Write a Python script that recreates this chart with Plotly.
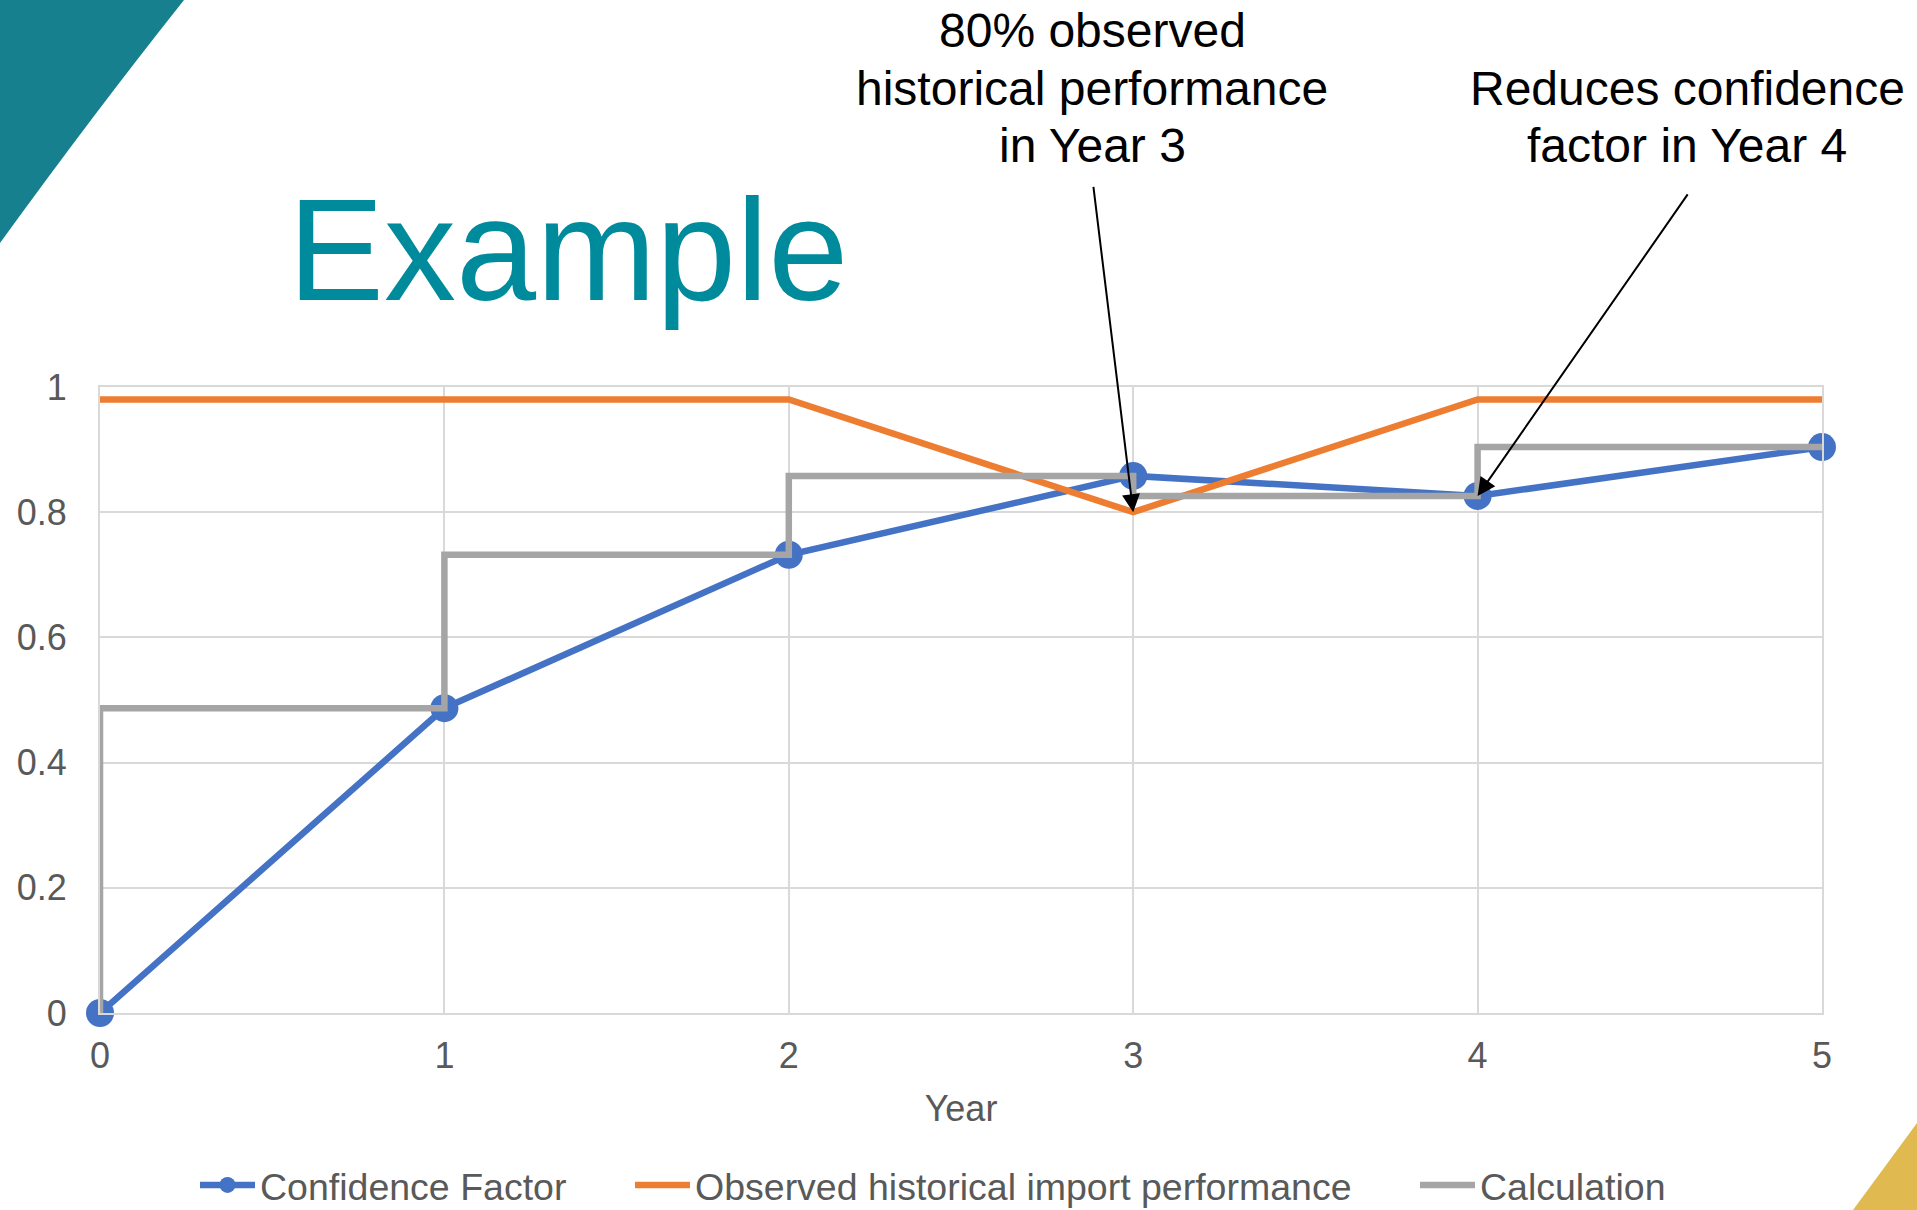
import plotly.graph_objects as go

years = [0, 1, 2, 3, 4, 5]
confidence_factor = [0, 0.487, 0.732, 0.858, 0.826, 0.904]
observed_performance = [0.98, 0.98, 0.98, 0.80, 0.98, 0.98]
calculation = [0, 0.487, 0.732, 0.858, 0.826, 0.904]
y_ticks = [0, 0.2, 0.4, 0.6, 0.8, 1]

W, H = 1917, 1210
L, R, T, B = 100, 95, 387, 197
PW, PH = W - L - R, H - T - B


def px(x):
    return (x - L) / PW


def py(y):
    return (H - B - y) / PH


FONT = "Liberation Sans, Arial, sans-serif"
TICK_COLOR = "#595959"
LEG_FONT = dict(family=FONT, size=37.5, color=TICK_COLOR)

fig = go.Figure()
fig.add_trace(go.Scatter(
    x=years, y=confidence_factor, name="Confidence Factor", mode="lines+markers",
    line=dict(color="#4472C4", width=6.5), marker=dict(size=28, color="#4472C4"),
    cliponaxis=False, legend="legend"))
fig.add_trace(go.Scatter(
    x=years, y=observed_performance, name="Observed historical import performance",
    mode="lines", line=dict(color="#ED7D31", width=6.5), cliponaxis=False, legend="legend2"))
fig.add_trace(go.Scatter(
    x=years, y=calculation, name="Calculation", mode="lines",
    line=dict(color="#A5A5A5", width=6.5, shape="vh"), cliponaxis=False, legend="legend3"))

annotations = []
annotations.append(dict(text="Example", xref="paper", yref="paper", x=px(286), y=py(250),
                        xanchor="left", yanchor="middle", showarrow=False,
                        font=dict(family=FONT, size=144, color="#008B9C")))
for txt, cy in [("80% observed", 30), ("historical performance", 88), ("in Year 3", 146)]:
    annotations.append(dict(text=txt, xref="paper", yref="paper", x=px(1092), y=py(cy),
                            xanchor="center", yanchor="middle", showarrow=False,
                            font=dict(family=FONT, size=48, color="black")))
for txt, cy in [("Reduces confidence", 88), ("factor in Year 4", 146)]:
    annotations.append(dict(text=txt, xref="paper", yref="paper", x=px(1687), y=py(cy),
                            xanchor="center", yanchor="middle", showarrow=False,
                            font=dict(family=FONT, size=48, color="black")))
annotations.append(dict(text="", x=years[3], y=observed_performance[3], xref="x", yref="y",
                        ax=2.884, ay=1.322, axref="x", ayref="y", showarrow=True,
                        arrowhead=2, arrowsize=1.8, arrowwidth=2, arrowcolor="black", standoff=0))
annotations.append(dict(text="", x=years[4], y=confidence_factor[4], xref="x", yref="y",
                        ax=4.613, ay=1.310, axref="x", ayref="y", showarrow=True,
                        arrowhead=2, arrowsize=1.8, arrowwidth=2, arrowcolor="black", standoff=0))

shapes = [
    dict(type="path", xref="paper", yref="paper",
         path=f"M {px(0)} {py(0)} L {px(184)} {py(0)} Q {px(95)} {py(112)} {px(0)} {py(243)} Z",
         fillcolor="#17808F", line=dict(width=0), layer="below"),
    dict(type="path", xref="paper", yref="paper",
         path=f"M {px(1853)} {py(1210)} L {px(1917)} {py(1123)} L {px(1917)} {py(1210)} Z",
         fillcolor="#E0BA50", line=dict(width=0), layer="below"),
]


def leg(xpix):
    return dict(orientation="h", x=px(xpix), xanchor="left", y=py(1185), yanchor="middle",
                font=LEG_FONT, itemwidth=55, bgcolor="rgba(0,0,0,0)", borderwidth=0)


fig.update_layout(
    width=W, height=H, margin=dict(l=L, r=R, t=T, b=B, autoexpand=False),
    paper_bgcolor="white", plot_bgcolor="white",
    font=dict(family=FONT, size=36, color=TICK_COLOR),
    annotations=annotations, shapes=shapes,
    showlegend=True,
    legend=leg(195), legend2=leg(630), legend3=leg(1415),
)
fig.update_xaxes(range=[0, 5], tickvals=years, showgrid=True, gridcolor="#D9D9D9", gridwidth=2,
                 zeroline=False, showline=True, linecolor="#D9D9D9", linewidth=2, mirror=True,
                 ticks="", ticklabelstandoff=10, automargin=False,
                 title=dict(text="Year", font=dict(family=FONT, size=36, color=TICK_COLOR), standoff=21),
                 tickfont=dict(family=FONT, size=36, color=TICK_COLOR))
fig.update_yaxes(range=[0, 1], tickvals=y_ticks, showgrid=True, gridcolor="#D9D9D9", gridwidth=2,
                 zeroline=False, showline=True, linecolor="#D9D9D9", linewidth=2, mirror=True,
                 ticks="", ticklabelstandoff=24, automargin=False,
                 tickfont=dict(family=FONT, size=36, color=TICK_COLOR))

fig.write_html("out.html", config={"displayModeBar": False},
               post_script="document.body.style.margin='0';")
